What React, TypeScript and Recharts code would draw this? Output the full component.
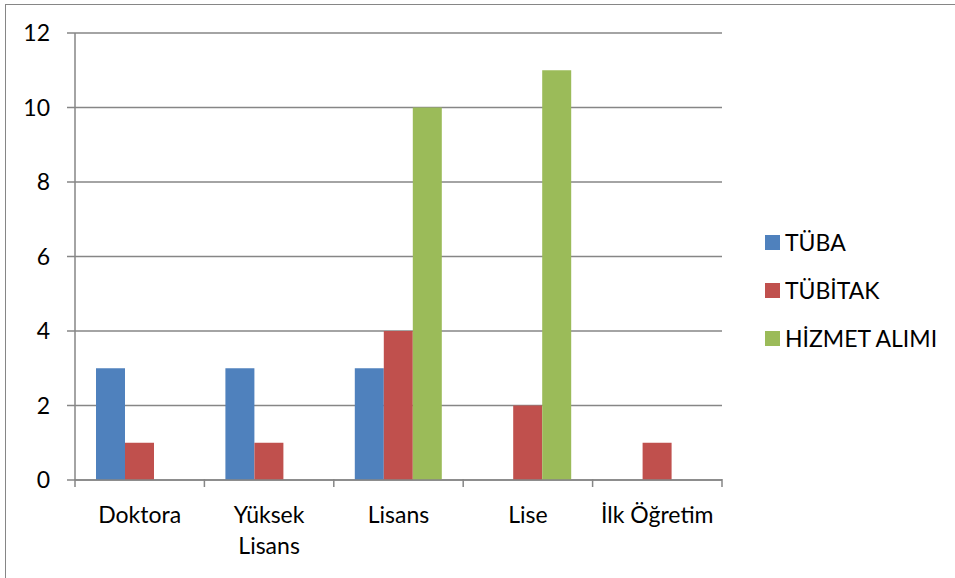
import React from "react";
import { BarChart, Bar, XAxis, YAxis, CartesianGrid, Legend } from "recharts";

const CATEGORIES = ["Doktora", "Yüksek Lisans", "Lisans", "Lise", "İlk Öğretim"];
const TUBA = [3, 3, 3, 0, 0];
const TUBITAK = [1, 1, 4, 2, 1];
const HIZMET = [0, 0, 10, 11, 0];
const Y_TICKS = [0, 2, 4, 6, 8, 10, 12];

const SERIES = [
  { key: "tuba", name: "TÜBA", color: "#4F81BD" },
  { key: "tubitak", name: "TÜBİTAK", color: "#C0504D" },
  { key: "hizmet", name: "HİZMET ALIMI", color: "#9BBB59" },
];

const data = CATEGORIES.map((name, i) => ({
  name,
  tuba: TUBA[i],
  tubitak: TUBITAK[i],
  hizmet: HIZMET[i],
}));

const FONT = "Lato, 'Open Sans', sans-serif";
const AXIS = "#868686";
const FS = 23;

// labels longer than this wrap onto one line per word (like Excel did)
const WRAP_AT = 12;

function CategoryTick(props: any) {
  const { x, y, payload, index, width } = props;
  const bw = (width || 647) / CATEGORIES.length;
  const left = x - bw / 2;
  const label = String(payload.value);
  const lines = label.length > WRAP_AT ? label.split(" ") : [label];
  return (
    <g>
      <line x1={left} y1={y - 9} x2={left} y2={y - 1} stroke={AXIS} strokeWidth={1.5} />
      {index === CATEGORIES.length - 1 && (
        <line x1={left + bw} y1={y - 9} x2={left + bw} y2={y - 1} stroke={AXIS} strokeWidth={1.5} />
      )}
      <text x={x} y={y + 17} textAnchor="middle" dominantBaseline="hanging"
        style={{ fontFamily: FONT, fontSize: FS, fill: "#000" }}>
        {lines.map((l, i) => (
          <tspan key={i} x={x} dy={i === 0 ? 0 : 31}>{l}</tspan>
        ))}
      </text>
    </g>
  );
}

function LegendBox() {
  return (
    <div style={{ fontFamily: FONT, fontSize: FS, color: "#000" }}>
      {SERIES.map(s => (
        <div key={s.key} style={{ display: "flex", alignItems: "center", height: 48 }}>
          <span style={{ width: 15, height: 15, background: s.color, marginRight: 5, display: "inline-block" }} />
          <span>{s.name}</span>
        </div>
      ))}
    </div>
  );
}

export default function App() {
  return (
    <div style={{ position: "fixed", left: 0, top: 0, width: 955, height: 578, background: "#fff", overflow: "hidden" }}>
      <div style={{ position: "absolute", left: 5, top: 4, width: 1000, height: 700, borderLeft: `1.5px solid ${AXIS}`, borderTop: `1.5px solid ${AXIS}` }} />
      <BarChart
        width={955}
        height={578}
        data={data}
        margin={{ top: 33, right: 43, bottom: 0, left: 0 }}
        barCategoryGap={21}
        barGap={0}
        style={{ position: "absolute", left: 0, top: 0 }}
      >
        <CartesianGrid vertical={false} stroke={AXIS} strokeWidth={1.5} />
        <XAxis
          dataKey="name"
          height={98}
          interval={0}
          tickLine={false}
          axisLine={{ stroke: AXIS, strokeWidth: 1.5 }}
          tick={<CategoryTick />}
        />
        <YAxis
          width={75}
          domain={[0, 12]}
          ticks={Y_TICKS}
          tickSize={8}
          tickMargin={17}
          axisLine={{ stroke: AXIS, strokeWidth: 1.5 }}
          tickLine={{ stroke: AXIS, strokeWidth: 1.5 }}
          tick={{ fontFamily: FONT, fontSize: FS, fill: "#000" }}
        />
        <Legend
          layout="vertical"
          verticalAlign="top"
          align="right"
          content={<LegendBox />}
          wrapperStyle={{ left: 765, top: 218, width: 190 }}
        />
        {SERIES.map(s => (
          <Bar key={s.key} dataKey={s.key} name={s.name} fill={s.color} isAnimationActive={false} />
        ))}
      </BarChart>
    </div>
  );
}
